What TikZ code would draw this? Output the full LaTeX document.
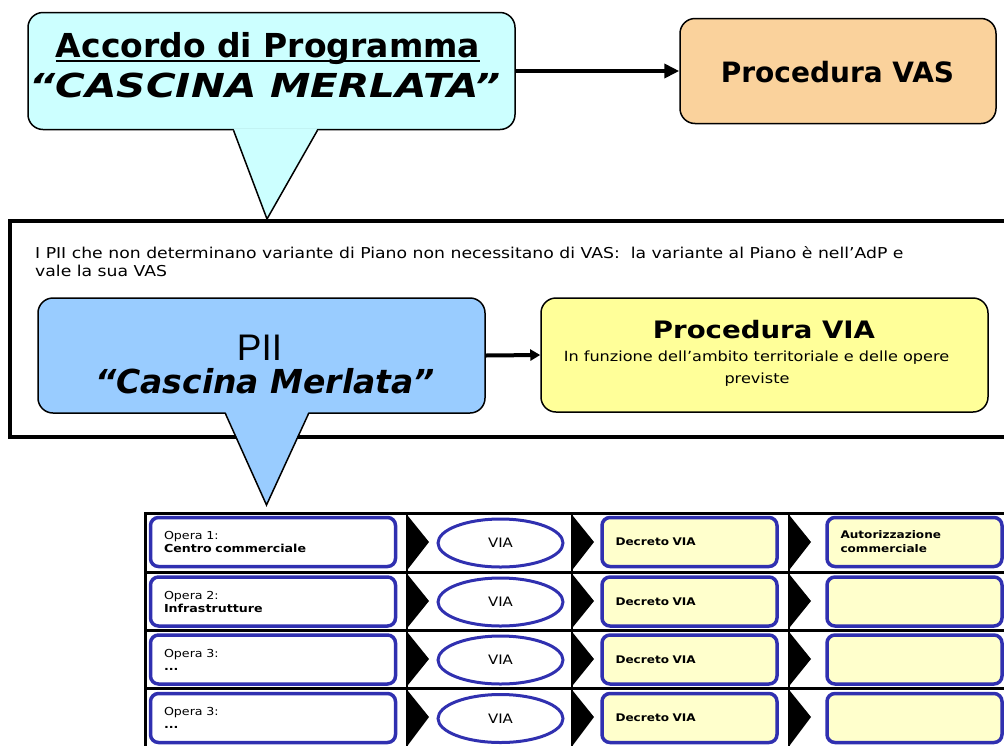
\documentclass[tikz,border=0pt]{standalone}
\usepackage{fontspec}
\setmainfont{DejaVu Sans}
\newfontfamily\lucidafont[FakeStretch=1.15]{DejaVu Sans}
\newfontfamily\widefont[FakeStretch=1.23]{DejaVu Sans}
\newfontfamily\helvfont{Liberation Sans}
\usetikzlibrary{positioning,arrows.meta,shapes.geometric}

\newcommand\adpuline[1]{\setbox0\hbox{#1}\rlap{\rule[-4.5pt]{\wd0}{2pt}}\box0}

\definecolor{adpcyan}{HTML}{CCFFFF}
\definecolor{vasorange}{HTML}{FAD29C}
\definecolor{piiblue}{HTML}{99CCFF}
\definecolor{viayellow}{HTML}{FFFF99}
\definecolor{cellyellow}{HTML}{FFFFCC}
\definecolor{cellblue}{HTML}{3030B0}

\begin{document}
\begin{tikzpicture}[x=1pt, y=-1pt, >={Triangle[length=15pt,width=14pt]},
  roundbox/.style={draw, line width=1.5pt, rounded corners=15pt, inner sep=0pt},
  label/.style={anchor=base, inner sep=0pt},
  opbox/.style={draw=cellblue, line width=3.5pt, rounded corners=8pt, fill=white,
    minimum width=245pt, minimum height=49pt, inner sep=0pt, text width=218pt, align=left,
    font=\lucidafont\fontsize{11}{13}\selectfont},
  viaell/.style={ellipse, draw=cellblue, line width=3pt, fill=white, minimum width=125pt,
    minimum height=48pt, inner sep=0pt, font=\lucidafont\fontsize{13}{15}\selectfont},
  decbox/.style={draw=cellblue, line width=3.5pt, rounded corners=8pt, fill=cellyellow,
    minimum width=175pt, minimum height=49pt, inner sep=0pt, text width=148pt, align=left,
    font=\lucidafont\bfseries\fontsize{10.5}{14}\selectfont},
  rowline/.style={line width=3pt},
  colline/.style={line width=1.5pt},
  chev/.style={fill=black}]
\useasboundingbox (0,0) rectangle (1004,745);

% accordo di programma e VAS
\node[roundbox, fill=adpcyan, minimum width=487pt, minimum height=117pt] (adp) at (271.5,71) {};
\node[label, font=\bfseries\fontsize{33}{40}\selectfont] (adptitle) at (268,57) {\adpuline{Accordo di Programma}};
\node[label, font=\widefont\bfseries\itshape\fontsize{33}{40}\selectfont] (adpname) at (265,97) {“CASCINA MERLATA”};
\node[roundbox, fill=vasorange, minimum width=316pt, minimum height=105pt] (vas) at (838,71) {};
\node[label, font=\bfseries\fontsize{28}{30}\selectfont] (vastitle) at (837.5,82) {Procedura VAS};
\draw[->, line width=4pt] (adp.east) -- (vas.west);
\coordinate (tipadp) at (267,219);
\fill[adpcyan] ([xshift=-38pt,yshift=2pt]adp.south) -- (tipadp) -- ([xshift=46pt,yshift=2pt]adp.south) -- cycle;
\draw[line width=1.5pt] ([xshift=-38pt]adp.south) -- (tipadp) -- ([xshift=46pt]adp.south);

% riquadro PII
\draw[line width=4pt] (10,221) rectangle (1012,437);
\node[anchor=base west, inner sep=0pt, font=\lucidafont\fontsize{15}{18}\selectfont] (nota1) at (35,258)
  {I PII che non determinano variante di Piano non necessitano di VAS:\ \ la variante al Piano è nell’AdP e};
\node[anchor=base west, inner sep=0pt, font=\lucidafont\fontsize{15}{18}\selectfont] (nota2) at (35,276.5)
  {vale la sua VAS};
\node[roundbox, fill=piiblue, minimum width=447pt, minimum height=115pt] (pii) at (261.5,355.5) {};
\node[label, font=\helvfont\fontsize{37}{40}\selectfont] (piititle) at (259.5,360) {PII};
\node[label, font=\bfseries\itshape\fontsize{33}{36}\selectfont] (piiname) at (265,393) {“Cascina Merlata”};
\node[roundbox, fill=viayellow, minimum width=447pt, minimum height=114pt] (via) at (764.5,355) {};
\node[label, font=\lucidafont\bfseries\fontsize{24}{26}\selectfont] (viatitle) at (764,338) {Procedura VIA};
\node[label, font=\lucidafont\fontsize{14}{16}\selectfont] (vianote1) at (756.5,361) {In funzione dell’ambito territoriale e delle opere};
\node[label, font=\lucidafont\fontsize{14}{16}\selectfont] (vianote2) at (757,383) {previste};
\draw[->, line width=4pt, >={Triangle[length=10pt,width=11pt]}] (pii.east) -- (via.west);
\coordinate (tippii) at (266.5,505);
\fill[piiblue] ([xshift=-36pt,yshift=2pt]pii.south) -- (tippii) -- ([xshift=47pt,yshift=2pt]pii.south) -- cycle;
\draw[line width=1.5pt] ([xshift=-36pt]pii.south) -- (tippii) -- ([xshift=47pt]pii.south);

% tabella delle opere
\draw[rowline] (144,513) -- (1012,513);
\draw[rowline] (144,572) -- (1012,572);
\draw[rowline] (144,630) -- (1012,630);
\draw[rowline] (144,688) -- (1012,688);
\draw[rowline] (145,513) -- (145,750);
\draw[colline] (407,513) -- (407,750);
\draw[colline] (572,513) -- (572,750);
\draw[colline] (789,513) -- (789,750);

\fill[chev] (408,516) -- (429,542) -- (408,569) -- cycle;
\fill[chev] (573,516) -- (594,542) -- (573,569) -- cycle;
\fill[chev] (790,516) -- (811,542) -- (790,569) -- cycle;
\fill[chev] (408,575) -- (429,601) -- (408,627) -- cycle;
\fill[chev] (573,575) -- (594,601) -- (573,627) -- cycle;
\fill[chev] (790,575) -- (811,601) -- (790,627) -- cycle;
\fill[chev] (408,633) -- (429,659) -- (408,685) -- cycle;
\fill[chev] (573,633) -- (594,659) -- (573,685) -- cycle;
\fill[chev] (790,633) -- (811,659) -- (790,685) -- cycle;
\fill[chev] (408,691) -- (429,717) -- (408,745) -- cycle;
\fill[chev] (573,691) -- (594,717) -- (573,745) -- cycle;
\fill[chev] (790,691) -- (811,717) -- (790,745) -- cycle;

\node[opbox] (op1) at (273,542) {Opera 1:\\\textbf{Centro commerciale}};
\node[viaell] (via1) at (500.5,543) {VIA};
\node[decbox] (dec1) at (689.5,542) {Decreto VIA};
\node[decbox] (aut1) at (914.5,542) {Autorizzazione\\commerciale};

\node[opbox] (op2) at (273,601.5) {Opera 2:\\\textbf{Infrastrutture}};
\node[viaell] (via2) at (500.5,602) {VIA};
\node[decbox] (dec2) at (689.5,601.5) {Decreto VIA};
\node[decbox] (aut2) at (914.5,601.5) {};

\node[opbox] (op3) at (273,659.5) {Opera 3:\\\textbf{...}};
\node[viaell] (via3) at (500.5,660) {VIA};
\node[decbox] (dec3) at (689.5,659.5) {Decreto VIA};
\node[decbox] (aut3) at (914.5,659.5) {};

\node[opbox] (op4) at (273,718) {Opera 3:\\\textbf{...}};
\node[viaell] (via4) at (500.5,718.5) {VIA};
\node[decbox] (dec4) at (689.5,718) {Decreto VIA};
\node[decbox] (aut4) at (914.5,718) {};
\end{tikzpicture}
\end{document}
